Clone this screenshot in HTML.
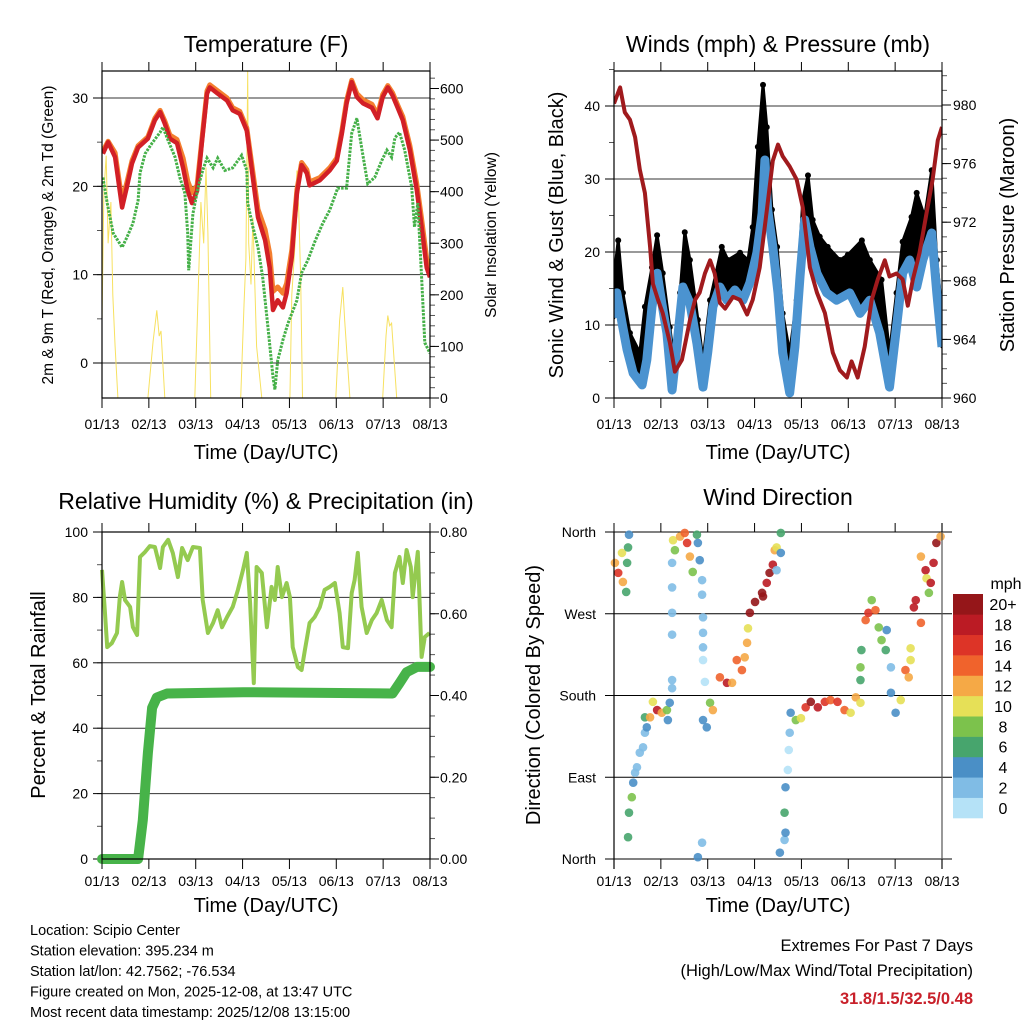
<!DOCTYPE html>
<html><head><meta charset="utf-8"><style>
html,body{margin:0;padding:0;background:#fff;}
svg{display:block;font-family:"Liberation Sans",sans-serif;}
</style></head><body>
<svg id="c" width="1024" height="1024" viewBox="0 0 1024 1024"></svg>
<script>
// ---------- Temperature panel data ----------
const tempTimes=[0.02,0.13,0.28,0.43,0.53,0.64,0.77,0.98,1.13,1.24,1.34,1.45,1.6,1.73,1.83,1.92,2.03,2.13,2.24,2.3,2.47,2.67,2.79,2.94,3.09,3.2,3.33,3.48,3.58,3.65,3.75,3.86,3.94,4.05,4.16,4.26,4.37,4.43,4.65,4.86,5.01,5.12,5.22,5.33,5.44,5.57,5.76,5.88,5.99,6.1,6.2,6.31,6.42,6.57,6.72,6.82,6.93,7.0];
const temp2m=[23.7,25,23.3,17.6,19.9,22.6,24.4,25.4,27.5,28.4,27.1,25.4,24.9,22.1,19.5,18.1,19.5,24.9,30.5,31.2,30.5,29.7,28.6,28.2,26.3,21.8,16.5,13.9,10.8,6.0,7.1,6.3,7.9,12,19.2,22.4,21.5,20.1,20.7,21.8,22.9,26,29.4,31.8,30.1,29.4,28.9,27.7,30.1,31.2,30.3,28.9,27.5,24.1,19.5,15.4,10.8,9.7];
const temp9m=[24.0,25.1,23.8,18.3,20.4,22.9,24.6,25.6,27.7,28.6,27.4,25.8,25.3,23.2,20.6,19.3,20.1,25.2,30.8,31.5,30.8,30.0,28.9,28.5,26.6,22.4,17.4,15.1,12.4,8.1,8.6,7.9,9.0,12.8,19.6,22.7,21.9,20.5,21.0,22.1,23.2,26.3,29.7,32.0,30.5,29.8,29.3,28.1,30.4,31.4,30.6,29.2,27.9,24.6,20.2,16.3,11.8,10.6];
const dewTimes=[0.02,0.11,0.24,0.43,0.53,0.66,0.77,0.81,0.92,1.07,1.24,1.3,1.41,1.56,1.66,1.77,1.83,1.85,1.94,2.05,2.15,2.24,2.37,2.47,2.62,2.79,2.98,3.09,3.11,3.22,3.33,3.43,3.54,3.65,3.69,3.75,3.86,3.97,4.16,4.26,4.39,4.54,4.71,4.86,5.03,5.22,5.33,5.44,5.54,5.67,5.82,5.97,6.08,6.18,6.25,6.35,6.46,6.61,6.67,6.74,6.82,6.89,7.0];
const dew2m=[21,18.1,14.7,13.1,14.2,15.8,18.4,21.5,23.7,24.9,26.1,26.7,25.2,23.3,21,19.2,14.7,10.5,16.9,19.9,21.8,23.2,22.1,23.2,21.8,22.1,23.5,21.8,18.1,15.4,13.1,9.7,4.1,-1.6,-3,0.3,2.6,4.5,7.1,10.2,11.6,13.7,15.8,17.3,19.8,19.8,26,27.7,24.4,20.3,21,22.9,24.1,23.3,25.5,26.1,24.1,19.9,15.4,18.1,9.7,2.3,1.1];
const solarTimes=[0,0.04,0.09,0.13,0.19,0.23,0.28,0.34,0.98,1.09,1.17,1.22,1.26,1.34,1.98,2.05,2.11,2.17,2.22,2.26,2.32,2.96,3.03,3.07,3.11,3.13,3.18,3.22,3.3,3.41,4.01,4.05,4.12,4.16,4.2,4.24,4.28,4.99,5.07,5.14,5.18,5.29,5.99,6.06,6.1,6.14,6.18,6.29,7.0];
const solarVals=[150,400,470,300,380,200,100,0,0,110,170,120,130,0,0,200,380,300,447,320,0,0,180,270,633,300,220,350,100,0,0,200,300,441,360,230,0,0,150,215,150,0,0,120,160,140,145,0,0];
const tempLeftTicks=[0,10,20,30];
const tempRightTicks=[0,100,200,300,400,500,600];
const dayLabels=["01/13","02/13","03/13","04/13","05/13","06/13","07/13","08/13"];
// ---------- Winds panel data ----------
const windTimes=[0,0.06,0.17,0.28,0.41,0.6,0.7,0.81,0.92,1.02,1.13,1.24,1.34,1.47,1.62,1.77,1.9,2.0,2.11,2.26,2.41,2.58,2.75,2.9,3.05,3.16,3.22,3.28,3.39,3.5,3.6,3.75,3.86,3.97,4.07,4.18,4.33,4.54,4.75,5.03,5.25,5.46,5.67,5.88,6.03,6.16,6.31,6.46,6.59,6.78,6.89,7.0];
const windSpeed=[11,14.4,10.3,6.6,3.4,1.8,5.2,12.5,17.1,13,8.9,1.1,7,15.2,13,7.5,1.5,6.2,12.5,15.2,13.4,14.8,13.4,15.8,19.9,25.3,32.6,25.8,20.7,14.4,6.2,0.7,7,16.6,24.4,20.7,17.1,14.4,13.4,14.4,11.6,13.4,8.9,1.5,9.7,17.1,18.9,15.2,18.9,22.6,14.4,7];
const gustTimes=[0,0.09,0.19,0.34,0.55,0.66,0.81,0.92,1.04,1.19,1.3,1.41,1.51,1.62,1.79,1.9,2.05,2.3,2.43,2.69,2.86,2.96,3.07,3.18,3.26,3.37,3.48,3.6,3.75,3.9,4.03,4.14,4.24,4.39,4.56,4.82,4.99,5.29,5.46,5.71,5.88,6.03,6.16,6.35,6.46,6.63,6.78,6.89,7.0];
const gustSpeed=[16.6,21.6,14.4,8.9,6.2,12.5,17.9,22.3,17.1,9.7,4.2,14.4,22.7,18.9,10.7,5.2,13.4,20.7,18.9,19.9,18.9,23.4,34.4,42.9,37.1,25.8,20.7,11.6,6.2,13.4,27.1,30.5,24.4,22.1,20.7,18.9,19.6,21.6,18.9,16.2,6.2,14.4,21.4,24.8,28.1,24.8,31.2,18.9,11.6];
const presTimes=[0,0.13,0.23,0.34,0.45,0.55,0.66,0.77,0.83,0.94,1.04,1.19,1.3,1.45,1.62,1.73,1.83,1.94,2.05,2.15,2.26,2.37,2.54,2.69,2.84,2.96,3.11,3.26,3.39,3.5,3.6,3.75,3.9,4.03,4.18,4.33,4.5,4.67,4.82,4.97,5.07,5.2,5.35,5.5,5.63,5.78,5.88,6.03,6.16,6.27,6.38,6.52,6.67,6.8,6.91,7.0];
const presVals=[980.1,981.2,979.5,979,977.8,975.6,974,970.3,967.8,966.7,965.8,963.8,961.8,962.6,965.3,966.7,967.2,968.5,969.4,968.5,966.5,966.1,966.9,966.7,965.7,966.7,968.9,972.8,976.2,977.3,976.5,975.8,974.9,973,968.9,967.2,965.8,963.1,961.9,961.4,962.5,961.4,963.5,966.7,968.1,969.4,968.3,968.5,968.1,966.3,968.1,969.9,972.6,974.9,977.6,978.5];
const windLeftTicks=[0,10,20,30,40];
const presTicks=[960,964,968,972,976,980];
// ---------- RH / Precip data ----------
const rhTimes=[0,0.06,0.11,0.21,0.32,0.38,0.43,0.49,0.6,0.66,0.75,0.81,0.92,1.02,1.13,1.24,1.3,1.41,1.51,1.62,1.71,1.83,1.94,2.09,2.15,2.26,2.37,2.47,2.56,2.67,2.79,2.9,3.01,3.09,3.16,3.24,3.3,3.41,3.52,3.62,3.69,3.75,3.84,3.94,4.01,4.07,4.18,4.26,4.33,4.43,4.54,4.65,4.75,4.86,4.97,5.07,5.14,5.25,5.33,5.39,5.46,5.54,5.65,5.76,5.86,5.97,6.08,6.18,6.25,6.35,6.42,6.5,6.59,6.63,6.74,6.82,6.89,6.99];
const rhVals=[88.4,76.1,64.8,66,69.1,80.1,84.7,79.2,77.1,70.9,68.5,92.4,93.9,95.7,95.4,89,95.4,97.6,93.6,86.2,95.1,91.4,95.4,95.1,79.2,69.1,72.2,76.1,70.9,74,77.1,82.3,88.4,93.6,78.3,53.8,89.3,87.5,70.9,83.2,79.2,89.3,80.1,84.4,80.1,64.8,58.7,57.8,63.9,72.2,74,77.1,82.3,83.2,84.4,75.2,64.8,64.5,81.3,85.3,93.6,77.1,69.1,73.1,75.2,79.2,73.1,70.9,87.5,92.4,84.4,94.5,89.3,80.1,93.9,61.8,67.9,69.1];
const precipTimes=[0,0.77,0.87,0.98,1.07,1.17,1.39,3.01,6.2,6.35,6.5,6.72,7.0];
const precipVals=[0,0,0.095,0.26,0.37,0.395,0.405,0.408,0.405,0.43,0.457,0.47,0.47];
const rhTicks=[0,20,40,60,80,100];
const precipTicks=[0,0.2,0.4,0.6,0.8];
// ---------- Wind direction data ----------
const dirTimes=[0.02,0.09,0.17,0.19,0.26,0.3,0.32,0.28,0.3,0.32,0.38,0.41,0.45,0.49,0.55,0.62,0.66,0.7,0.66,0.77,0.83,0.92,1.02,1.13,1.19,1.15,1.24,1.24,1.24,1.24,1.24,1.24,1.26,1.3,1.41,1.51,1.56,1.62,1.68,1.77,1.79,1.83,1.88,1.88,1.9,1.9,1.9,1.9,1.94,1.79,1.88,1.9,1.98,2.05,2.11,2.26,2.41,2.52,2.62,2.73,2.79,2.84,2.86,2.9,3.01,3.16,3.18,3.26,3.32,3.39,3.43,3.47,3.56,3.56,3.47,3.54,3.64,3.64,3.66,3.66,3.71,3.73,3.75,3.77,3.88,3.99,4.09,4.2,4.35,4.5,4.62,4.77,4.92,5.05,5.16,5.26,5.26,5.26,5.28,5.37,5.43,5.5,5.58,5.65,5.71,5.8,5.82,5.91,5.91,6.01,6.12,6.22,6.29,6.33,6.33,6.44,6.4,6.55,6.55,6.65,6.67,6.72,6.76,6.82,6.88,6.97];
const dirDeg=[326,315,337,305,294,343,357,326,24,51,68,84,95,101,117,123,139,145,156,156,173,164,161,164,172,153,299,326,271,247,197,188,351,340,355,359,348,333,316,357,348,329,307,291,266,249,233,219,195,2,18,153,145,172,164,200,194,194,219,208,222,238,254,271,283,293,289,304,315,324,340,343,359,337,318,7,21,51,29,79,98,120,139,161,153,155,167,173,167,173,175,173,164,161,178,172,197,211,230,263,271,285,274,255,241,230,252,211,183,161,175,208,200,219,232,285,277,260,333,318,309,293,304,326,348,355,349];
const dirSpeed=[12,16,10,12,6,6,4,6,6,6,8,4,2,2,2,2,2,4,6,12,10,18,12,8,4,4,2,2,2,2,2,2,10,8,12,14,16,12,8,6,4,4,2,2,2,2,2,0,0,4,2,4,4,8,12,14,18,12,14,14,12,12,10,20,20,20,20,18,20,18,12,10,6,4,2,4,2,6,4,4,0,0,2,4,8,10,16,20,18,16,14,16,14,10,12,10,6,8,6,14,16,8,14,8,8,6,4,2,4,4,10,14,12,10,10,18,18,14,12,18,10,8,18,18,20,12,6];
const speedColors=["#b5e2f7","#80bce5","#4a8fc6","#47a56d","#7cc24c","#e6e057","#f5a946","#f0632c","#dd3427","#bb1b24","#951619"];
const speedLabels=["0","2","4","6","8","10","12","14","16","18","20+"];
const dirLabels=["North","East","South","West","North"];
const dirTicks=[0,90,180,270,360];

const NS="http://www.w3.org/2000/svg";
const svg=document.getElementById('c');
function mk(tag,attrs,parent){const e=document.createElementNS(NS,tag);for(const k in attrs)e.setAttribute(k,attrs[k]);(parent||svg).appendChild(e);return e;}
function txt(s,x,y,size,anchor,parent,extra){const e=mk('text',Object.assign({x:x,y:y,'font-size':size,'text-anchor':anchor||'middle',fill:'#000'},extra||{}),parent);e.textContent=s;return e;}
function lin(d0,d1,r0,r1){return v=>r0+(v-d0)*(r1-r0)/(d1-d0);}
function pts(xs,ys,fx,fy){return xs.map((t,i)=>fx(t).toFixed(1)+','+fy(ys[i]).toFixed(1)).join(' ');}

function frame(g,L,T,R,B,fx){
  for(let d=0;d<=7;d++){
    const x=fx(d);
    mk('line',{x1:x,y1:B,x2:x,y2:B+10,stroke:'#000','stroke-width':1},g);
    mk('line',{x1:x,y1:T-9,x2:x,y2:T,stroke:'#000','stroke-width':1},g);
    const lb=txt(dayLabels[d],x,429,14,'middle',g);
    
    
  }
}
function box(g,L,T,R,B){
  const r=mk('rect',{x:L,y:T,width:R-L,height:B-T,fill:'none',stroke:'#000','stroke-width':1.2},g);
  
  
}
function yTicks(g,vals,fy,xEdge,dir,minorStep,lo,hi,labelFmt,labelX,anchor,grid,L,R){
  for(let v=lo;v<=hi+1e-9;v+=minorStep){const y=fy(v);mk('line',{x1:xEdge,y1:y,x2:xEdge+dir*5,y2:y,stroke:'#555','stroke-width':1},g);}
  vals.forEach(v=>{const y=fy(v);
    mk('line',{x1:xEdge,y1:y,x2:xEdge+dir*9,y2:y,stroke:'#000','stroke-width':1},g);
    if(grid){const gl=mk('line',{x1:L,y1:y,x2:R,y2:y,stroke:'#333','stroke-width':1},g);
      
      }
    const t=txt(labelFmt(v),labelX,y+5,14,anchor,g);
    
    
  });
}
function vlabel(g,s,x,y,size,name){const t=txt(s,x,y,size,'middle',g,{transform:'rotate(-90 '+x+' '+y+')'});return t;}

// ===== Panel 1: Temperature =====
(function(){
  const g=mk('g',{});
  const L=102,R=430,T=71,B=398;
  const fx=lin(0,7,L,R), fy=lin(0,30,363,98), fs=lin(0,600,398,88.5);
  const cp=mk('clipPath',{id:'cp1'},g);mk('rect',{x:L,y:T,width:R-L,height:B-T},cp);
  yTicks(g,tempLeftTicks,fy,L,-1,5,-0,30,v=>String(v),88,'end',true,L,R);
  yTicks(g,tempRightTicks,fs,R,1,20,0,620,v=>String(v),440,'start',false);
  const pg=mk('g',{'clip-path':'url(#cp1)'},g);
  const s=mk('polyline',{points:pts(solarTimes,solarVals,fx,fs),fill:'none',stroke:'#f7e160','stroke-width':1},pg);
  
  const o=mk('polyline',{points:pts(tempTimes,temp9m,fx,fy),fill:'none',stroke:'#f47f2f','stroke-width':5,'stroke-linejoin':'round'},pg);
  
  const r=mk('polyline',{points:pts(tempTimes,temp2m,fx,fy),fill:'none',stroke:'#d21f26','stroke-width':4.5,'stroke-linejoin':'round'},pg);
  
  const d=mk('polyline',{points:pts(dewTimes,dew2m,fx,fy),fill:'none',stroke:'#45b048','stroke-width':3,'stroke-dasharray':'2.5 1.2'},pg);
  
  box(g,L,T,R,B);frame(g,L,T,R,B,fx);
  const ti=txt('Temperature (F)',266,52,23,'middle',g);
  const xl=txt('Time (Day/UTC)',266,459,20,'middle',g);
  vlabel(g,'2m & 9m T (Red, Orange) & 2m Td (Green)',53,235,15.5,'y-axis-title');
  vlabel(g,'Solar Insolation (Yellow)',496,235,15.5,'y2-axis-title');
})();

// ===== Panel 2: Winds & Pressure =====
(function(){
  const g=mk('g',{});
  const L=614,R=942,T=71,B=398;
  const fx=lin(0,7,L,R), fy=lin(0,40,398,106), fp=lin(960,980,398,105);
  const cp=mk('clipPath',{id:'cp2'},g);mk('rect',{x:L,y:T,width:R-L,height:B-T},cp);
  yTicks(g,windLeftTicks,fy,L,-1,5,0,45,v=>String(v),600,'end',true,L,R);
  yTicks(g,presTicks,fp,R,1,1,960,982,v=>String(v),953,'start',false);
  const pg=mk('g',{'clip-path':'url(#cp2)'},g);
  const band=mk('polygon',{points:pts(gustTimes,gustSpeed,fx,fy)+' '+pts(windTimes.slice().reverse(),windSpeed.slice().reverse(),fx,fy),fill:'#000','stroke':'#000','stroke-width':3,'stroke-linejoin':'round'},pg);
  
  gustTimes.forEach((t,i)=>{const c=mk('circle',{cx:fx(t),cy:fy(gustSpeed[i]),r:3,fill:'#000'},pg);
    });
  const w=mk('polyline',{points:pts(windTimes,windSpeed,fx,fy),fill:'none',stroke:'#4b93d0','stroke-width':9,'stroke-linejoin':'round'},pg);
  
  const p=mk('polyline',{points:pts(presTimes,presVals,fx,fp),fill:'none',stroke:'#a01a1d','stroke-width':4,'stroke-linejoin':'round'},pg);
  
  box(g,L,T,R,B);frame(g,L,T,R,B,fx);
  const ti=txt('Winds (mph) & Pressure (mb)',778,52,23,'middle',g);
  const xl=txt('Time (Day/UTC)',778,459,20,'middle',g);
  vlabel(g,'Sonic Wind & Gust (Blue, Black)',563,235,20,'y-axis-title');
  vlabel(g,'Station Pressure (Maroon)',1014,235,20,'y2-axis-title');
})();

// ===== Panel 3: RH & Precip =====
(function(){
  const g=mk('g',{transform:'translate(0,457)'});
  const L=102,R=430,T=75,B=402;
  const fx=lin(0,7,L,R), fy=lin(0,100,402,75), fr=lin(0,0.8,402,75);
  const cp=mk('clipPath',{id:'cp3'},g);mk('rect',{x:L-6,y:T,width:R-L+12,height:B-T+6},cp);
  yTicks(g,rhTicks,fy,L,-1,10,0,100,v=>String(v),88,'end',true,L,R);
  yTicks(g,precipTicks,fr,R,1,0.05,0,0.8,v=>v.toFixed(2),440,'start',false);
  const pg=mk('g',{'clip-path':'url(#cp3)'},g);
  const rh=mk('polyline',{points:pts(rhTimes,rhVals,fx,fy),fill:'none',stroke:'#94ca50','stroke-width':4,'stroke-linejoin':'round'},pg);
  
  const pr=mk('polyline',{points:pts(precipTimes,precipVals,fx,fr),fill:'none',stroke:'#47b349','stroke-width':10,'stroke-linejoin':'round','stroke-linecap':'round'},pg);
  
  box(g,L,T,R,B);frame(g,L,T,R,B,fx);
  const ti=txt('Relative Humidity (%) & Precipitation (in)',266,52,23,'middle',g);
  const xl=txt('Time (Day/UTC)',266,455,20,'middle',g);
  vlabel(g,'Percent & Total Rainfall',45,238,20,'y-axis-title');
})();

// ===== Panel 4: Wind direction =====
(function(){
  const g=mk('g',{transform:'translate(0,457)'});
  const L=614,R=942,T=75,B=402;
  const fx=lin(0,7,L,R), fy=lin(0,360,402,75);
  dirTicks.forEach((v,i)=>{const y=fy(v);
    const gl=mk('line',{x1:L-9,y1:y,x2:R+10,y2:y,stroke:'#000','stroke-width':1},g);
    
    const t=txt(dirLabels[i],596,y+5,14,'end',g);});
  dirTimes.forEach((t,i)=>{const c=mk('circle',{cx:fx(t),cy:fy(dirDeg[i]),r:4.3,fill:speedColors[Math.min(10,Math.floor(dirSpeed[i]/2))],'fill-opacity':0.9},g);
    });
  mk('line',{x1:L,y1:T,x2:L,y2:B+10,stroke:'#000','stroke-width':1.2},g);
  mk('line',{x1:R,y1:T-9,x2:R,y2:B+10,stroke:'#555','stroke-width':1.2},g);
  frame(g,L,T,R,B,fx);
  const ti=txt('Wind Direction',778,48,23,'middle',g);
  const xl=txt('Time (Day/UTC)',778,455,20,'middle',g);
  vlabel(g,'Direction (Colored By Speed)',540,238,20,'y-axis-title');
  const cb=mk('g',{},svg);
  const h=(818-594)/11;
  speedColors.forEach((c,i)=>{const y=818-(i+1)*h;
    const r=mk('rect',{x:953,y:y,width:30,height:h+0.3,fill:c},cb);
    const t=txt(speedLabels[i],1003,y+h/2+6,16,'middle',cb);});
  const m=txt('mph',1006,589,16,'middle',cb);
})();

// ===== Footer =====
const footLeft=["Location: Scipio Center","Station elevation: 395.234 m","Station lat/lon: 42.7562; -76.534","Figure created on Mon, 2025-12-08, at 13:47 UTC","Most recent data timestamp: 2025/12/08 13:15:00"];
footLeft.forEach((s,i)=>{const t=txt(s,30,935+i*20.5,14.5,'start');});
const e1=txt('Extremes For Past 7 Days',973,951,16.5,'end');
const e2=txt('(High/Low/Max Wind/Total Precipitation)',973,976,16.5,'end');
const e3=txt('31.8/1.5/32.5/0.48',973,1004,16.5,'end',null,{fill:'#c8202a','font-weight':'bold'});
</script>
</body></html>
